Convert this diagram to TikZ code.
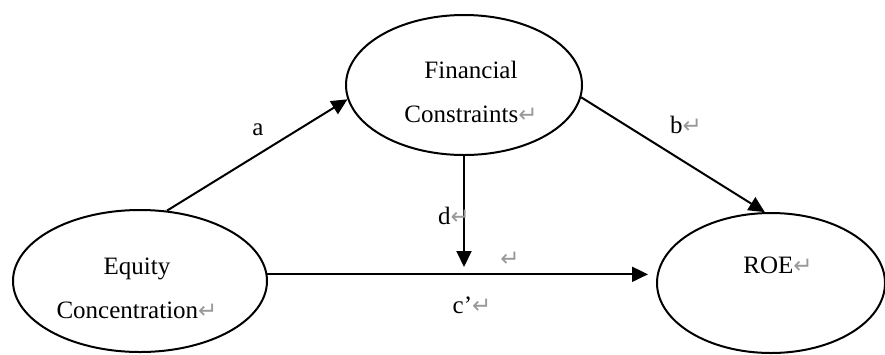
\documentclass[tikz,border=0pt]{standalone}
\usepackage{fontspec}
\setmainfont{Liberation Serif}
\newfontfamily\symfont{DejaVu Sans}
\usetikzlibrary{shapes.geometric,arrows.meta}
\newcommand{\ret}{{\symfont\color{gray!80}\fontsize{23}{23}\selectfont ↵}}
\begin{document}
\begin{tikzpicture}[x=1pt,y=-1pt,
  ell/.style={draw, ellipse, line width=2pt, inner sep=0pt},
  txt/.style={align=center, inner sep=0pt, font=\fontsize{25}{44}\selectfont},
  conn/.style={line width=2pt, -{Triangle[length=16pt,width=15pt]}}]
\useasboundingbox (0,0) rectangle (885,354);
\node[ell, minimum width=236pt, minimum height=140pt] (fc) at (464,85) {};
\node[ell, minimum width=254pt, minimum height=142pt] (eq) at (140,281) {};
\node[ell, minimum width=228pt, minimum height=140pt] (roe) at (771,283) {};
\node[txt] (fct) at (471,92) {Financial\\Constraints\ret};
\node[txt] (eqt) at (137,288) {Equity\\Concentration\ret};
\node[txt, anchor=base] (roet) at (778,273) {ROE\ret};
\draw[conn] (eq.69) -- (fc.187);
\draw[conn] (fc.354) -- (roe.95);
\coordinate (dend) at (464,267);
\draw[conn] (fc.south) -- (dend);
\draw[conn, shorten >=8pt] (eq.3) -- (eq.3 -| roe.west);
\node[txt, anchor=base] (la) at (258,135) {a};
\node[txt, anchor=base] (lb) at (686,133) {b\ret};
\node[txt, anchor=base] (ld) at (454,224) {d\ret};
\node[txt] (lr) at (510,259) {\ret};
\node[txt, anchor=base] (lc) at (472,313) {c’\ret};
\end{tikzpicture}
\end{document}
